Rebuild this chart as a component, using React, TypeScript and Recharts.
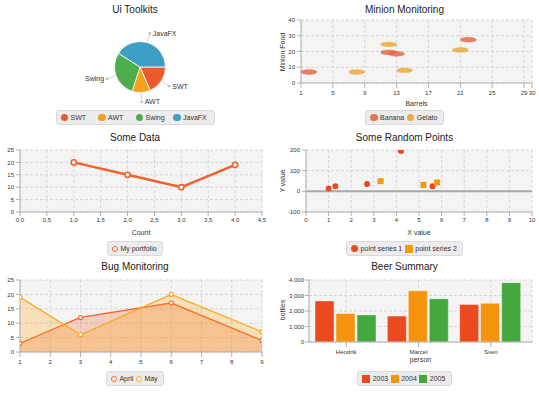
import React from 'react';
import {
  PieChart,
  Pie,
  Cell,
  ScatterChart,
  Scatter,
  LineChart,
  Line,
  AreaChart,
  Area,
  BarChart,
  Bar,
  XAxis,
  YAxis,
  CartesianGrid,
  ReferenceLine,
} from 'recharts';

const FONT = '"Liberation Sans", Arial, Helvetica, sans-serif';
const C1 = '#f3622d';
const C2 = '#fba71b';
const TEXT = '#333';
const GRID = '#d6d6d6';
const PLOT_BG = '#f4f4f4';
const AXIS = '#b0b0b0';

// Ui Toolkits
const toolkitNames = ['SWT', 'AWT', 'Swing', 'JavaFX'];
const toolkitShares = [18.5, 11.5, 29, 41];
const toolkitColors = ['#ea5a2c', '#f2a21c', '#4dae4d', '#3d9fc3'];

// Minion Monitoring
const bananaBarrels = [2, 12, 13, 22];
const bananaFood = [7, 19.5, 18.5, 27.5];
const gelatoBarrels = [8, 12, 14, 21];
const gelatoFood = [7, 24.5, 8, 21];
const minionXTicks = [1, 5, 9, 13, 17, 21, 25, 29, 30];
const minionYTicks = [0, 10, 20, 30, 40];

// Some Data
const portfolioCount = [1, 2, 3, 4];
const portfolioValue = [20, 15, 10, 19];
const someDataXTicks = [0, 0.5, 1, 1.5, 2, 2.5, 3, 3.5, 4, 4.5];
const someDataYTicks = [0, 5, 10, 15, 20, 25];

// Some Random Points
const series1X = [1.0, 1.3, 2.7, 4.2, 5.6];
const series1Y = [14, 25, 35, 195, 25];
const series2X = [3.3, 5.2, 5.8];
const series2Y = [49, 31, 43];
const randomXTicks = [0, 1, 2, 3, 4, 5, 6, 7, 8, 9, 10];
const randomYTicks = [-100, 0, 100, 200];

// Bug Monitoring
const bugDays = [1, 3, 6, 9];
const aprilBugs = [3, 12, 17, 4];
const mayBugs = [19, 6, 20, 7];
const bugXTicks = [1, 2, 3, 4, 5, 6, 7, 8, 9];
const bugYTicks = [0, 5, 10, 15, 20, 25];

// Beer Summary
const beerPeople = ['Hendrik', 'Marcel', 'Sven'];
const beer2003 = [2650, 1670, 2420];
const beer2004 = [1840, 3300, 2500];
const beer2005 = [1750, 2790, 3830];
const beerYTicks = [0, 1000, 2000, 3000, 4000];
const beerColors = ['#ec4a1e', '#f6930c', '#44a83f'];

const toolkitData = toolkitNames.map((name, i) => ({ name, value: toolkitShares[i] }));
const bananaData = bananaBarrels.map((x, i) => ({ x, y: bananaFood[i] }));
const gelatoData = gelatoBarrels.map((x, i) => ({ x, y: gelatoFood[i] }));
const portfolioData = portfolioCount.map((count, i) => ({ count, value: portfolioValue[i] }));
const series1Data = series1X.map((x, i) => ({ x, y: series1Y[i] }));
const series2Data = series2X.map((x, i) => ({ x, y: series2Y[i] }));
const bugData = bugDays.map((day, i) => ({ day, april: aprilBugs[i], may: mayBugs[i] }));
const beerData = beerPeople.map((person, i) => ({
  person,
  y2003: beer2003[i],
  y2004: beer2004[i],
  y2005: beer2005[i],
}));

// javafx draws 4 minor ticks between majors
const minorTicks = (major: number[]) => {
  const out: number[] = [];
  for (let i = 0; i < major.length - 1; i++) {
    const step = (major[i + 1] - major[i]) / 5;
    for (let k = 1; k < 5; k++) out.push(major[i] + step * k);
  }
  return out;
};

const tick = { fontSize: 6, fill: TEXT, fontFamily: FONT };
const axisLine = { stroke: AXIS };
const tickLine = { stroke: AXIS };
const labelStyle = { fontSize: 7, fill: TEXT, fontFamily: FONT };

// minor axes get id 0 so they sit right on the plot edge, main axes are id 1
const minorX = (domain: [number, number], major: number[]) => (
  <XAxis
    xAxisId={0}
    type="number"
    domain={domain}
    allowDataOverflow
    ticks={minorTicks(major)}
    interval={0}
    tick={false}
    tickSize={2.5}
    tickLine={tickLine}
    axisLine={false}
    height={0}
  />
);
const minorY = (domain: [number, number], major: number[]) => (
  <YAxis
    yAxisId={0}
    type="number"
    domain={domain}
    allowDataOverflow
    ticks={minorTicks(major)}
    interval={0}
    tick={false}
    tickSize={2.5}
    tickLine={tickLine}
    axisLine={false}
    width={0}
  />
);

function Title({ x, y, w, text }: { x: number; y: number; w: number; text: string }) {
  return (
    <div
      style={{
        position: 'absolute',
        left: x,
        top: y - 7,
        width: w,
        textAlign: 'center',
        fontSize: 10,
        lineHeight: '14px',
        color: '#222',
      }}
    >
      {text}
    </div>
  );
}

// rotated y-axis title, centred on (cx, cy)
function YTitle({ cx, cy, text }: { cx: number; cy: number; text: string }) {
  return (
    <div
      style={{
        position: 'absolute',
        left: cx,
        top: cy,
        transform: 'translate(-50%, -50%) rotate(-90deg)',
        fontSize: 7,
        lineHeight: '8px',
        color: TEXT,
        whiteSpace: 'nowrap',
      }}
    >
      {text}
    </div>
  );
}

type LegendItem = { label: string; color: string; symbol: 'dot' | 'ring' | 'square' };

function symbolStyle(it: LegendItem): React.CSSProperties {
  if (it.symbol === 'ring')
    return {
      width: 4,
      height: 4,
      borderRadius: '50%',
      border: `1.5px solid ${it.color}`,
      background: '#fff',
      flex: 'none',
    };
  if (it.symbol === 'square') return { width: 8, height: 8, background: it.color, flex: 'none' };
  return { width: 7.5, height: 7.5, borderRadius: '50%', background: it.color, flex: 'none' };
}

function LegendBox({ x, y, w, items, tile }: { x: number; y: number; w: number; items: LegendItem[]; tile?: number }) {
  return (
    <div style={{ position: 'absolute', left: x, top: y, width: w, display: 'flex', justifyContent: 'center' }}>
      <div
        style={{
          display: 'flex',
          alignItems: 'center',
          height: 15,
          padding: '0 3px 0 4px',
          background: '#ececec',
          border: '1px solid #dadada',
          borderRadius: 3,
          boxSizing: 'border-box',
        }}
      >
        {items.map((it) => (
          <div
            key={it.label}
            style={{ display: 'flex', alignItems: 'center', width: tile, marginRight: tile ? 0 : 2.5 }}
          >
            <span style={symbolStyle(it)} />
            <span style={{ fontSize: 7, color: TEXT, marginLeft: 2.5, whiteSpace: 'nowrap' }}>{it.label}</span>
          </div>
        ))}
      </div>
    </div>
  );
}

const RADIAN = Math.PI / 180;
function pieLabel(props: any) {
  const { cx, cy, midAngle, outerRadius } = props;
  const name = props.name ?? props.payload?.name;
  const cos = Math.cos(-midAngle * RADIAN);
  const sin = Math.sin(-midAngle * RADIAN);
  const sx = cx + outerRadius * cos;
  const sy = cy + outerRadius * sin;
  const ex = cx + (outerRadius + 9.5) * cos;
  const ey = cy + (outerRadius + 9.5) * sin;
  const right = cos >= 0;
  return (
    <g>
      <line x1={sx} y1={sy} x2={ex} y2={ey} stroke="#c4c4c4" strokeWidth={0.8} />
      <circle cx={ex} cy={ey} r={1.3} fill="#bcbcbc" />
      <text
        x={ex + (right ? 3 : -3)}
        y={ey}
        textAnchor={right ? 'start' : 'end'}
        dominantBaseline="central"
        fontSize={7}
        fill={TEXT}
        fontFamily={FONT}
      >
        {name}
      </text>
    </g>
  );
}

const bubble = (color: string) => (p: any) => (
  <ellipse
    cx={p.cx}
    cy={p.cy}
    rx={8}
    ry={2.4}
    fill={color}
    fillOpacity={0.8}
    stroke={color}
    strokeOpacity={0.6}
    strokeWidth={0.6}
  />
);
const dotShape = (p: any) => <circle cx={p.cx} cy={p.cy} r={3} fill="#ea4a1f" />;
const squareShape = (p: any) => <rect x={p.cx - 3} y={p.cy - 3} width={6} height={6} fill="#f59a0c" />;

export default function App() {
  return (
    <div
      style={{
        position: 'absolute',
        left: 0,
        top: 0,
        width: 539,
        height: 395,
        background: '#fff',
        fontFamily: FONT,
        overflow: 'hidden',
      }}
    >
      {/* Ui Toolkits */}
      <div style={{ position: 'absolute', left: 0, top: 0 }}>
        <PieChart width={270} height={130}>
          <Pie
            data={toolkitData}
            dataKey="value"
            nameKey="name"
            cx={135}
            cy={62}
            outerRadius={25.5}
            startAngle={0}
            endAngle={-360}
            stroke="#fff"
            strokeWidth={0.8}
            label={pieLabel}
            labelLine={false}
            isAnimationActive={false}
          >
            {toolkitNames.map((n, i) => (
              <Cell key={n} fill={toolkitColors[i]} />
            ))}
          </Pie>
        </PieChart>
      </div>
      <Title x={0} y={10} w={270} text="Ui Toolkits" />
      <LegendBox
        x={0}
        y={110}
        w={270}
        tile={37.5}
        items={toolkitNames.map((label, i) => ({ label, color: toolkitColors[i], symbol: 'dot' as const }))}
      />

      {/* Minion Monitoring */}
      <div style={{ position: 'absolute', left: 270, top: 0 }}>
        <ScatterChart width={269} height={130} margin={{ top: 20, right: 7, bottom: 23, left: 0 }}>
          {minorX([1, 30], minionXTicks)}
          {minorY([0, 40], minionYTicks)}
          <CartesianGrid xAxisId={1} yAxisId={1} stroke={GRID} strokeDasharray="3 2" fill={PLOT_BG} />
          <XAxis
            xAxisId={1}
            type="number"
            dataKey="x"
            domain={[1, 30]}
            allowDataOverflow
            ticks={minionXTicks}
            interval={0}
            tick={tick}
            tickSize={5}
            tickMargin={3}
            axisLine={axisLine}
            tickLine={tickLine}
            height={24}
            label={{ value: 'Barrels', position: 'insideBottom', offset: 1, style: labelStyle }}
          />
          <YAxis
            yAxisId={1}
            type="number"
            dataKey="y"
            domain={[0, 40]}
            allowDataOverflow
            ticks={minionYTicks}
            interval={0}
            tick={tick}
            tickSize={4}
            tickMargin={2}
            axisLine={axisLine}
            tickLine={tickLine}
            width={31}
          />
          <Scatter xAxisId={1} yAxisId={1} name="Banana" data={bananaData} shape={bubble('#e8603c')} isAnimationActive={false} />
          <Scatter xAxisId={1} yAxisId={1} name="Gelato" data={gelatoData} shape={bubble('#eea52a')} isAnimationActive={false} />
        </ScatterChart>
      </div>
      <Title x={270} y={10} w={269} text="Minion Monitoring" />
      <YTitle cx={283} cy={51.5} text="Minion Food" />
      <LegendBox
        x={270}
        y={110}
        w={269}
        items={[
          { label: 'Banana', color: '#e8714f', symbol: 'dot' },
          { label: 'Gelato', color: '#eeaa3a', symbol: 'dot' },
        ]}
      />

      {/* Some Data */}
      <div style={{ position: 'absolute', left: 0, top: 130 }}>
        <LineChart width={270} height={130} data={portfolioData} margin={{ top: 20, right: 8, bottom: 24, left: 0 }}>
          {minorX([0, 4.5], someDataXTicks)}
          {minorY([0, 25], someDataYTicks)}
          <CartesianGrid xAxisId={1} yAxisId={1} stroke={GRID} strokeDasharray="3 2" fill={PLOT_BG} />
          <XAxis
            xAxisId={1}
            type="number"
            dataKey="count"
            domain={[0, 4.5]}
            allowDataOverflow
            ticks={someDataXTicks}
            interval={0}
            tickFormatter={(v: number) => v.toFixed(1).replace('.', ',')}
            tick={tick}
            tickSize={4}
            tickMargin={2}
            axisLine={axisLine}
            tickLine={tickLine}
            height={24}
            label={{ value: 'Count', position: 'insideBottom', offset: 1, style: labelStyle }}
          />
          <YAxis
            yAxisId={1}
            type="number"
            domain={[0, 25]}
            allowDataOverflow
            ticks={someDataYTicks}
            interval={0}
            tick={tick}
            tickSize={4}
            tickMargin={2}
            axisLine={axisLine}
            tickLine={tickLine}
            width={20}
          />
          <Line
            xAxisId={1}
            yAxisId={1}
            type="linear"
            dataKey="value"
            name="My portfolio"
            stroke={C1}
            strokeWidth={2.5}
            dot={{ r: 2.6, fill: '#fff', stroke: C1, strokeWidth: 1.6 }}
            isAnimationActive={false}
          />
        </LineChart>
      </div>
      <Title x={0} y={138} w={270} text="Some Data" />
      <LegendBox x={0} y={241} w={270} items={[{ label: 'My portfolio', color: C1, symbol: 'ring' }]} />

      {/* Some Random Points */}
      <div style={{ position: 'absolute', left: 270, top: 130 }}>
        <ScatterChart width={269} height={130} margin={{ top: 20, right: 7, bottom: 24, left: 0 }}>
          {minorX([0, 10], randomXTicks)}
          {minorY([-100, 200], randomYTicks)}
          <CartesianGrid xAxisId={1} yAxisId={1} stroke={GRID} strokeDasharray="3 2" fill={PLOT_BG} />
          <XAxis
            xAxisId={1}
            type="number"
            dataKey="x"
            domain={[0, 10]}
            allowDataOverflow
            ticks={randomXTicks}
            interval={0}
            tick={tick}
            tickSize={4}
            tickMargin={2}
            axisLine={axisLine}
            tickLine={tickLine}
            height={24}
            label={{ value: 'X value', position: 'insideBottom', offset: 1, style: labelStyle }}
          />
          <YAxis
            yAxisId={1}
            type="number"
            dataKey="y"
            domain={[-100, 200]}
            allowDataOverflow
            ticks={randomYTicks}
            interval={0}
            tick={tick}
            tickSize={4}
            tickMargin={2}
            axisLine={axisLine}
            tickLine={tickLine}
            width={36}
          />
          <ReferenceLine xAxisId={1} yAxisId={1} y={0} stroke="#a9a9a9" strokeWidth={2} />
          <Scatter xAxisId={1} yAxisId={1} name="point series 1" data={series1Data} shape={dotShape} isAnimationActive={false} />
          <Scatter xAxisId={1} yAxisId={1} name="point series 2" data={series2Data} shape={squareShape} isAnimationActive={false} />
        </ScatterChart>
      </div>
      <Title x={270} y={138} w={269} text="Some Random Points" />
      <YTitle cx={283} cy={181} text="Y value" />
      <LegendBox
        x={270}
        y={241}
        w={269}
        items={[
          { label: 'point series 1', color: '#ea4a1f', symbol: 'dot' },
          { label: 'point series 2', color: '#f59a0c', symbol: 'square' },
        ]}
      />

      {/* Bug Monitoring */}
      <div style={{ position: 'absolute', left: 0, top: 260 }}>
        <AreaChart width={270} height={135} data={bugData} margin={{ top: 20, right: 8, bottom: 27, left: 0 }}>
          {minorX([1, 9], bugXTicks)}
          {minorY([0, 25], bugYTicks)}
          <CartesianGrid xAxisId={1} yAxisId={1} stroke={GRID} strokeDasharray="3 2" fill={PLOT_BG} />
          <XAxis
            xAxisId={1}
            type="number"
            dataKey="day"
            domain={[1, 9]}
            allowDataOverflow
            ticks={bugXTicks}
            interval={0}
            tick={tick}
            tickSize={5}
            tickMargin={3}
            axisLine={axisLine}
            tickLine={tickLine}
            height={16}
          />
          <YAxis
            yAxisId={1}
            type="number"
            domain={[0, 25]}
            allowDataOverflow
            ticks={bugYTicks}
            interval={0}
            tick={tick}
            tickSize={4}
            tickMargin={2}
            axisLine={axisLine}
            tickLine={tickLine}
            width={20}
          />
          <Area
            xAxisId={1}
            yAxisId={1}
            type="linear"
            dataKey="april"
            name="April"
            stroke={C1}
            strokeWidth={1.3}
            fill={C1}
            fillOpacity={0.27}
            dot={{ r: 2, fill: '#fff', stroke: C1, strokeWidth: 1.1, fillOpacity: 1 }}
            isAnimationActive={false}
          />
          <Area
            xAxisId={1}
            yAxisId={1}
            type="linear"
            dataKey="may"
            name="May"
            stroke={C2}
            strokeWidth={1.3}
            fill={C2}
            fillOpacity={0.27}
            dot={{ r: 2, fill: '#fff', stroke: C2, strokeWidth: 1.1, fillOpacity: 1 }}
            isAnimationActive={false}
          />
        </AreaChart>
      </div>
      <Title x={0} y={267} w={270} text="Bug Monitoring" />
      <LegendBox
        x={0}
        y={371}
        w={270}
        items={[
          { label: 'April', color: C1, symbol: 'ring' },
          { label: 'May', color: C2, symbol: 'ring' },
        ]}
      />

      {/* Beer Summary */}
      <div style={{ position: 'absolute', left: 270, top: 260 }}>
        <BarChart
          width={269}
          height={135}
          data={beerData}
          margin={{ top: 20, right: 7, bottom: 31, left: 0 }}
          barCategoryGap={5}
          barGap={2}
        >
          {minorY([0, 4000], beerYTicks)}
          <CartesianGrid yAxisId={1} stroke={GRID} strokeDasharray="3 2" fill={PLOT_BG} />
          <XAxis
            dataKey="person"
            padding={{ left: 1, right: 5 }}
            interval={0}
            tick={tick}
            tickSize={5}
            tickMargin={3}
            axisLine={axisLine}
            tickLine={tickLine}
            height={22}
            label={{ value: 'person', position: 'insideBottom', offset: 2, style: labelStyle }}
          />
          <YAxis
            yAxisId={1}
            type="number"
            domain={[0, 4000]}
            allowDataOverflow
            ticks={beerYTicks}
            interval={0}
            tickFormatter={(v: number) => v.toLocaleString('en-US')}
            tick={tick}
            tickSize={4}
            tickMargin={1}
            axisLine={axisLine}
            tickLine={tickLine}
            width={39}
          />
          <Bar yAxisId={1} dataKey="y2003" name="2003" fill={beerColors[0]} stroke="#fff" strokeOpacity={0.5} strokeWidth={0.8} isAnimationActive={false} />
          <Bar yAxisId={1} dataKey="y2004" name="2004" fill={beerColors[1]} stroke="#fff" strokeOpacity={0.5} strokeWidth={0.8} isAnimationActive={false} />
          <Bar yAxisId={1} dataKey="y2005" name="2005" fill={beerColors[2]} stroke="#fff" strokeOpacity={0.5} strokeWidth={0.8} isAnimationActive={false} />
        </BarChart>
      </div>
      <Title x={270} y={267} w={269} text="Beer Summary" />
      <YTitle cx={283} cy={310} text="bottles" />
      <LegendBox
        x={270}
        y={371}
        w={269}
        items={[
          { label: '2003', color: beerColors[0], symbol: 'square' },
          { label: '2004', color: beerColors[1], symbol: 'square' },
          { label: '2005', color: beerColors[2], symbol: 'square' },
        ]}
      />
    </div>
  );
}
